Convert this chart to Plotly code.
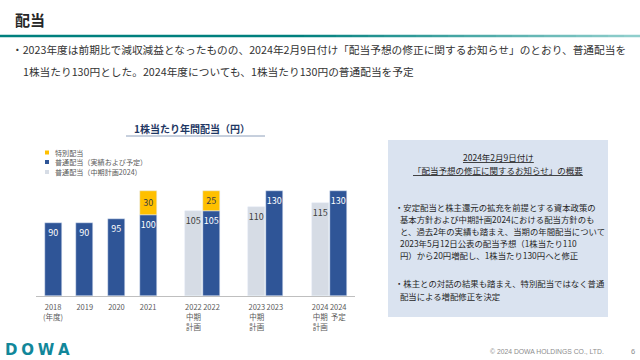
import plotly.graph_objects as go

# ---------------- data ----------------
years = ["2018", "2019", "2020", "2021", "2022", "2023", "2024"]
ordinary = [90, 90, 95, 100, 105, 130, 130]
special = [None, None, None, 30, 25, None, None]
plan_years = ["2022", "2023", "2024"]
plan_values = [105, 110, 115]
year_ticks = ["2018<br>(年度)", "2019", "2020", "2021", "2022", "2023", "2024<br>予定"]
plan_ticks = ["2022<br>中期<br>計画", "2023<br>中期<br>計画", "2024<br>中期<br>計画"]
legend_labels = ["特別配当", "普通配当（実績および予定）", "普通配当（中期計画2024）"]

# ---------------- layout settings ----------------
W, H = 640, 360
L, R, T, B = 36, 285, 180, 64
slot_pos = [0, 1, 2, 3, 5, 7, 9]
plan_shift = -0.57
bar_w = 0.54
slot_of = dict(zip(years, slot_pos))
x_act = [slot_of[y] for y in years]
x_plan = [slot_of[y] + plan_shift for y in plan_years]

C_BLUE = "#2F5597"
C_YELLOW = "#FFC000"
C_PLAN = "#D6DCE5"
C_TEXT = "#333333"
JP = "Noto Sans CJK JP"

fig = go.Figure()
fig.add_trace(go.Bar(
    x=x_plan, y=plan_values, width=bar_w, marker_color=C_PLAN,
    texttemplate="%{y}", textposition="inside", insidetextanchor="end",
    constraintext="none", textangle=0,
    textfont=dict(family=JP, size=9, color="#404040"),
    name=legend_labels[2], showlegend=False, hoverinfo="skip"))
fig.add_trace(go.Bar(
    x=x_act, y=ordinary, width=bar_w, marker_color=C_BLUE,
    texttemplate="%{y}", textposition="inside", insidetextanchor="end",
    constraintext="none", textangle=0,
    textfont=dict(family=JP, size=9, color="white"),
    name=legend_labels[1], showlegend=False, hoverinfo="skip"))
fig.add_trace(go.Bar(
    x=x_act, y=special, width=bar_w, marker_color=C_YELLOW,
    texttemplate="%{y}", textposition="inside", insidetextanchor="middle",
    constraintext="none", textangle=0,
    textfont=dict(family=JP, size=9, color="#404040"),
    name=legend_labels[0], showlegend=False, hoverinfo="skip"))

fig.update_layout(
    width=W, height=H, margin=dict(l=L, r=R, t=T, b=B),
    paper_bgcolor="white", plot_bgcolor="white",
    barmode="relative", bargap=0,
    font=dict(family=JP, color=C_TEXT),
    xaxis=dict(range=[-0.54, 9.53], showgrid=False, zeroline=False,
               showline=True, linecolor="#BFBFBF", linewidth=1,
               tickvals=x_act + x_plan, ticktext=year_ticks + plan_ticks,
               tickfont=dict(family=JP, size=7.5, color="#595959"),
               ticklabelstandoff=4,
               ticks="", fixedrange=True, automargin=False),
    yaxis=dict(range=[0, 143.5], visible=False, fixedrange=True),
)


def px(x):
    return (x - L) / (W - L - R)


def py(y):
    return (H - B - y) / (H - T - B)


ann = []
shapes = []


def text(s, x, y, size, color=C_TEXT, xa="left", family=JP):
    ann.append(dict(text=s, x=px(x), y=py(y), xref="paper", yref="paper",
                    xanchor=xa, yanchor="middle", showarrow=False,
                    font=dict(family=family, size=size, color=color)))


# header
text("<b>配当</b>", 13, 19, 15, "#262626")
# gradient teal rule
n_seg = 40
c0, c1 = (0, 128, 126), (150, 210, 208)
for i in range(n_seg):
    t0 = i / n_seg
    t = max(0.0, (t0 - 0.45) / 0.55)
    col = tuple(int(c0[k] + (c1[k] - c0[k]) * t) for k in range(3))
    shapes.append(dict(type="line", xref="paper", yref="paper",
                       x0=px(W * i / n_seg), x1=px(W * (i + 1) / n_seg),
                       y0=py(36), y1=py(36),
                       line=dict(color="rgb(%d,%d,%d)" % col, width=2.5)))

text("・2023年度は前期比で減収減益となったものの、2024年2月9日付け「配当予想の修正に関するお知らせ」のとおり、普通配当を",
     10, 49, 10.7)
text("1株当たり130円とした。2024年度についても、1株当たり130円の普通配当を予定", 21, 71, 10.7)

# chart title
text("<b>1株当たり年間配当（円）</b>", 192, 128, 10, "#1F3864", xa="center")
shapes.append(dict(type="line", xref="paper", yref="paper",
                   x0=px(126), x1=px(265), y0=py(136), y1=py(136),
                   line=dict(color="#8EA0BB", width=1)))

# legend
for lab, col, yy in zip(legend_labels, [C_YELLOW, C_BLUE, C_PLAN], [152.5, 162, 172]):
    shapes.append(dict(type="rect", xref="paper", yref="paper",
                       x0=px(45), x1=px(49), y0=py(yy - 2), y1=py(yy + 2),
                       fillcolor=col, line=dict(width=0)))
    text(lab, 52.5, yy, 7.1, "#595959")

# info box
shapes.append(dict(type="rect", xref="paper", yref="paper", layer="below",
                   x0=px(388), x1=px(608), y0=py(140), y1=py(317),
                   fillcolor="#DAE3F0", line=dict(width=0)))
text("<u>2024年2月9日付け</u>", 498, 157, 8.5, "#262626", xa="center")
text("<u>「配当予想の修正に関するお知らせ」の概要</u>", 498, 170, 8.5, "#262626", xa="center")
body = [
    ("・安定配当と株主還元の拡充を前提とする資本政策の", 393, 207),
    ("基本方針および中期計画2024における配当方針のも", 398, 219),
    ("と、過去2年の実績も踏まえ、当期の年間配当について", 398, 231),
    ("2023年5月12日公表の配当予想（1株当たり110", 398, 243),
    ("円）から20円増配し、1株当たり130円へと修正", 398, 255),
    ("・株主との対話の結果も踏まえ、特別配当ではなく普通", 393, 283),
    ("配当による増配修正を決定", 398, 296),
]
for s, x, y in body:
    text(s, x, y, 8.4, "#262626")

# footer
text("<b>D\u2005O\u2005W\u2005A</b>", 3, 350, 15, "#11879A", family="DejaVu Sans")
text("© 2024 DOWA HOLDINGS CO., LTD.", 606, 351, 6.8, "#8C8C8C", xa="right", family="Liberation Sans")
text("6", 633, 351, 7.5, "#8C8C8C", xa="center", family="Liberation Sans")

fig.update_layout(annotations=ann, shapes=shapes)
fig.write_html("out.html", config={"displayModeBar": False},
               post_script="document.body.style.margin='0';document.body.style.overflow='hidden';")
